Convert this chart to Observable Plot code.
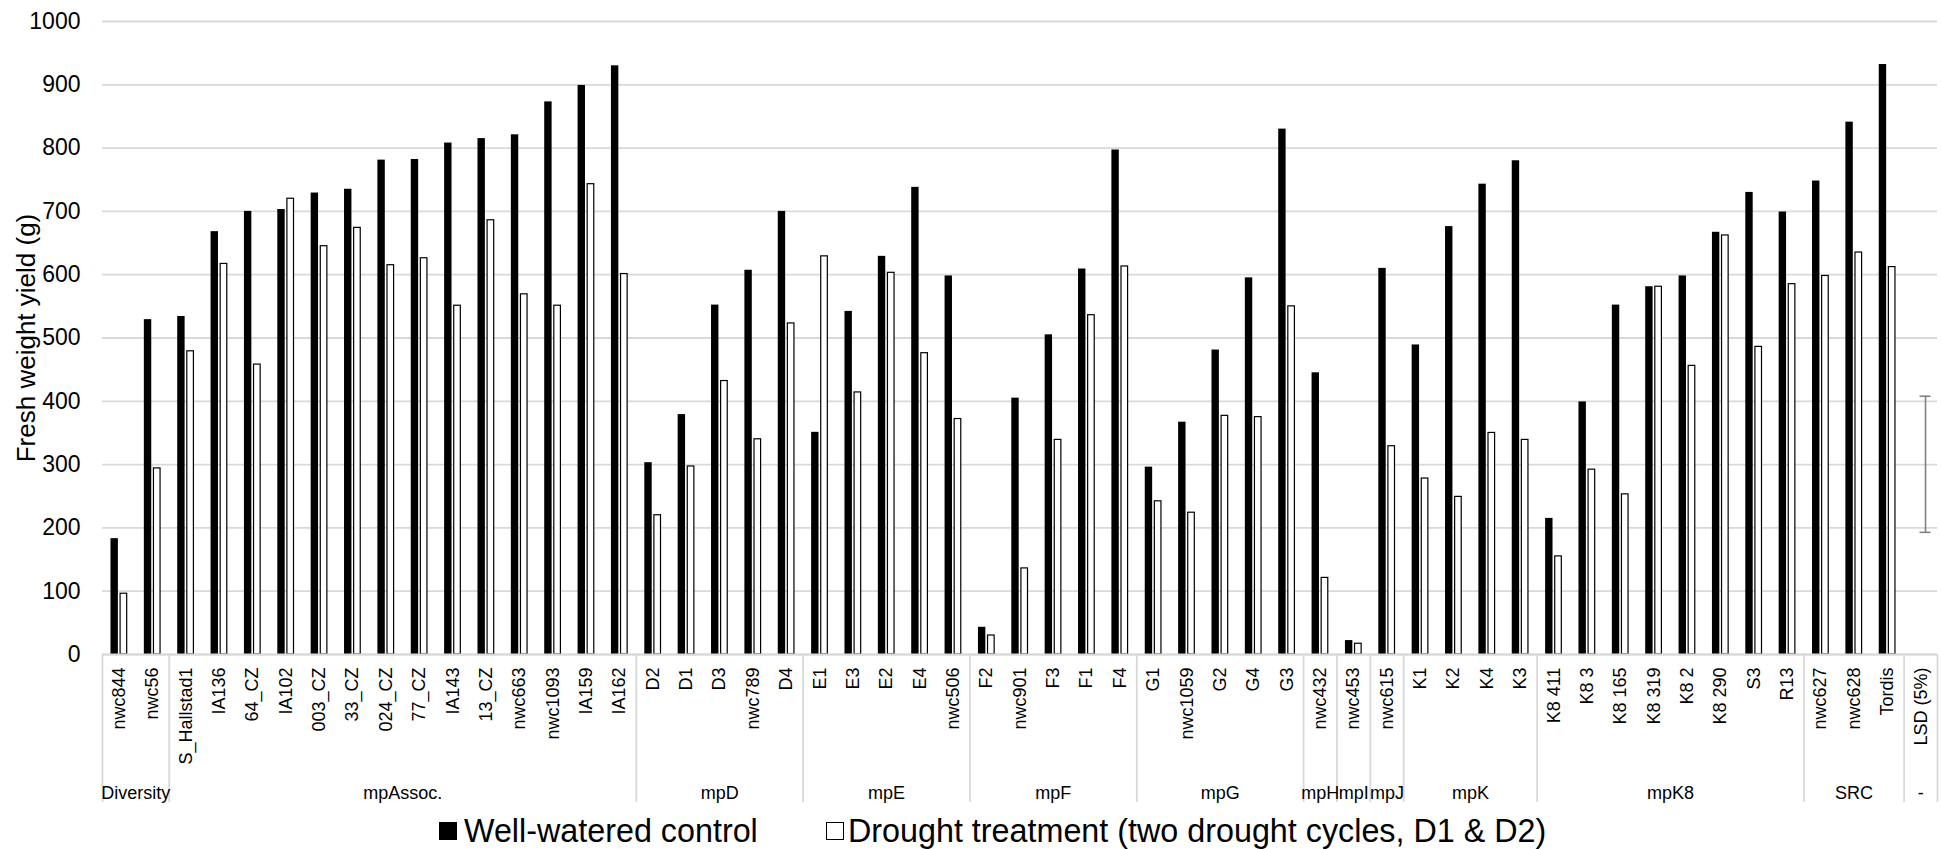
<!DOCTYPE html>
<html><head><meta charset="utf-8">
<script src="https://cdn.jsdelivr.net/npm/d3@7"></script>
<script src="https://cdn.jsdelivr.net/npm/@observablehq/plot@0.6"></script>
<style>
html,body{margin:0;padding:0;background:#fff;overflow:hidden;}
#chart svg{display:block;}
#legend{position:relative;width:1941px;height:41px;font-family:'Liberation Sans',Arial,sans-serif;font-size:32.3px;line-height:1;color:#000;}
#legend span{position:absolute;white-space:nowrap;}
.sq{width:18px;height:18px;box-sizing:border-box;top:14px;}
</style></head>
<body>
<div id="chart"></div>
<div id="legend"></div>
<script>
const categories = ["nwc844","nwc56","S_Hallstad1","IA136","64_CZ","IA102","003_CZ","33_CZ","024_CZ","77_CZ","IA143","13_CZ","nwc663","nwc1093","IA159","IA162","D2","D1","D3","nwc789","D4","E1","E3","E2","E4","nwc506","F2","nwc901","F3","F1","F4","G1","nwc1059","G2","G4","G3","nwc432","nwc453","nwc615","K1","K2","K4","K3","K8 411","K8 3","K8 165","K8 319","K8 2","K8 290","S3","R13","nwc627","nwc628","Tordis","LSD (5%)"];
const wellWatered = [183,529,534,668,700,703,729,735,781,782,808,815,821,873,899,930,303,379,552,607,700,351,542,629,738,598,43,405,505,609,797,296,367,481,595,830,445,22,610,489,676,743,780,215,399,552,581,598,667,730,699,748,841,932,null];
const drought = [96,294,479,617,458,720,645,674,615,626,551,686,569,551,743,601,220,297,432,340,523,629,414,603,476,372,30,136,339,536,613,242,224,377,375,550,121,17,329,278,249,350,339,155,292,253,581,456,662,486,585,598,635,612,null];
const groupNames = ["Diversity","mpAssoc.","mpD","mpE","mpF","mpG","mpH","mpI","mpJ","mpK","mpK8","SRC","-"];
const groupSizes = [2,14,5,5,5,5,1,1,1,4,8,3,1];
const yTicks = [0,100,200,300,400,500,600,700,800,900,1000];
const lsdRange = [193, 408];
const seriesNames = ["Well-watered control", "Drought treatment (two drought cycles, D1 & D2)"];
const yTitle = "Fresh weight yield (g)";

const rows = categories.map((c, i) => ({category: c, ww: wellWatered[i], dr: drought[i]}));
const groupStarts = [];
{ let s = 0; for (const n of groupSizes) { groupStarts.push(s); s += n; } }

const W = 1941, H = 808, mL = 102, mR = 4, mT = 21, mB = 154;
const plotH = H - mT - mB;
const step = (W - mL - mR) / categories.length;
const sepColor = "#d9d9d9";
const font = "'Liberation Sans', Arial, sans-serif";

const marks = [
  Plot.gridY({ticks: yTicks, stroke: sepColor, strokeOpacity: 1, strokeWidth: 1.8}),
  Plot.axisY({ticks: yTicks, tickFormat: d => String(d), tickSize: 0, tickPadding: 22, fontSize: 23, label: null}),
  Plot.axisX({tickSize: 0, tickPadding: 13, tickRotate: -90, fontSize: 18, label: null}),
  Plot.barY(rows, {x: "category", y: "ww", fill: "#000", insetLeft: step / 2 - 8.2, insetRight: step / 2 + 0.8}),
  Plot.barY(rows, {x: "category", y: "dr", fill: "#fff", stroke: "#000", strokeWidth: 1.2, insetLeft: step / 2 + 1.4, insetRight: step / 2 - 8.0}),
  Plot.ruleY([0], {stroke: sepColor, strokeWidth: 1.8}),
  Plot.ruleX(groupStarts.map(i => categories[i]), {x: d => d, dx: -step / 2, stroke: sepColor, strokeWidth: 1.8, insetTop: plotH, insetBottom: -148}),
  Plot.ruleX([categories[categories.length - 1]], {x: d => d, dx: step / 2, stroke: sepColor, strokeWidth: 1.8, insetTop: plotH, insetBottom: -148}),
  Plot.ruleX([lsdRange], {x: () => "LSD (5%)", y1: d => d[0], y2: d => d[1], dx: 4.7, stroke: "#808080", strokeWidth: 1.6}),
  Plot.tickY(lsdRange, {x: () => "LSD (5%)", y: d => d, stroke: "#808080", strokeWidth: 1.6, insetLeft: step / 2 - 0.8, insetRight: step / 2 - 10.2}),
  Plot.text([yTitle], {text: d => d, frameAnchor: "left", dx: -76, rotate: -90, fontSize: 26, textAnchor: "middle", lineAnchor: "middle"}),
  ...groupNames.map((g, i) => Plot.text([g], {
    x: () => categories[groupStarts[i]], text: d => d,
    dx: (groupSizes[i] - 1) * step / 2, frameAnchor: "bottom", dy: 144, lineAnchor: "bottom", fontSize: 18
  }))
];

const chart = Plot.plot({
  width: W, height: H, marginLeft: mL, marginRight: mR, marginTop: mT, marginBottom: mB,
  x: {domain: categories, padding: 0, round: false},
  y: {domain: [0, 1000]},
  style: {fontFamily: font, background: "#fff", color: "#000", overflow: "visible"},
  marks
});
document.getElementById("chart").appendChild(chart);

const legend = document.getElementById("legend");
legend.innerHTML =
  `<span class="sq" style="left:439px;background:#000"></span>` +
  `<span style="left:464px;top:7px">${seriesNames[0]}</span>` +
  `<span class="sq" style="left:826px;background:#fff;border:1.5px solid #000"></span>` +
  `<span style="left:848px;top:7px">${seriesNames[1]}</span>`;
</script>
</body></html>
